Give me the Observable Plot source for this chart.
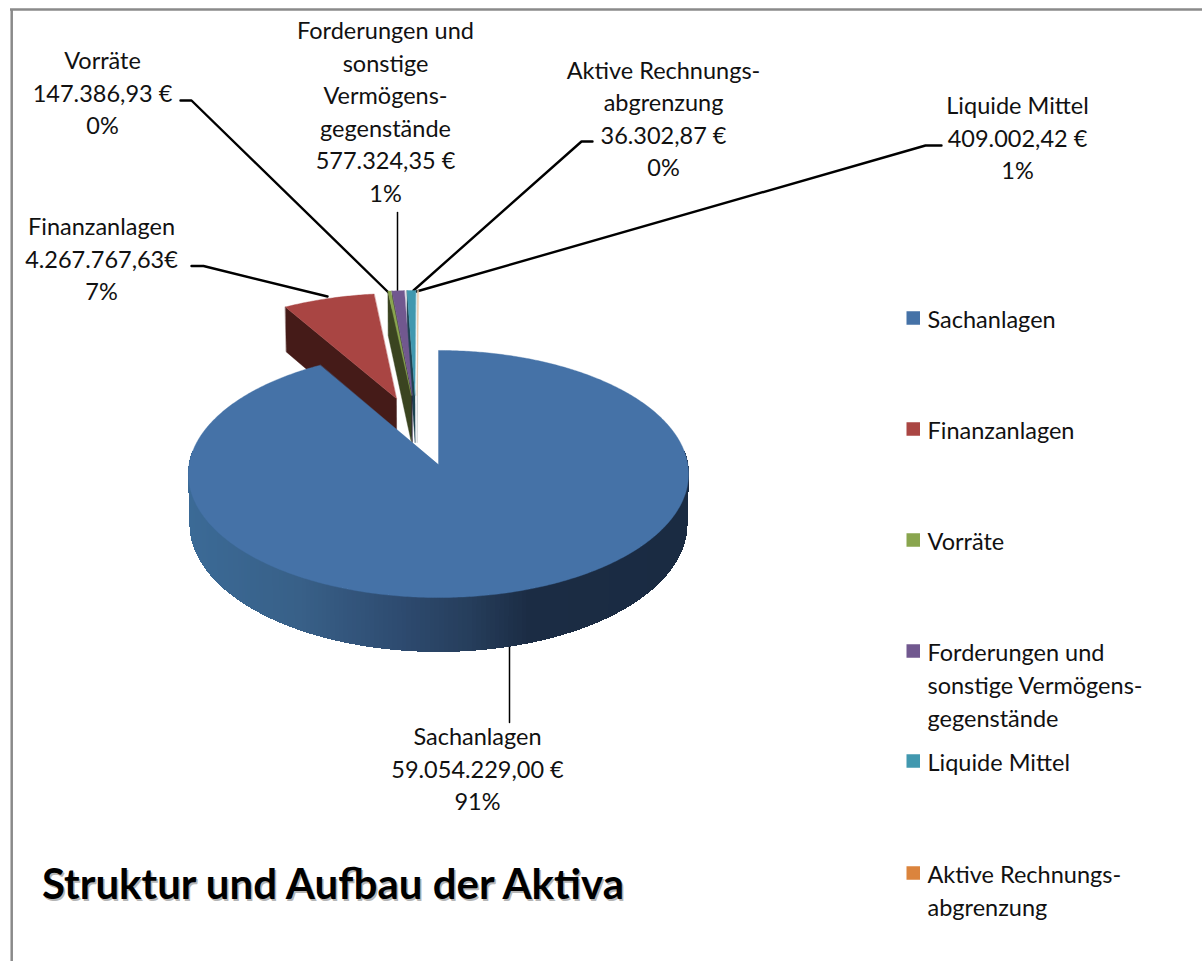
<!DOCTYPE html>
<html lang="de">
<head>
<meta charset="utf-8">
<title>Struktur und Aufbau der Aktiva</title>
<style>html,body{margin:0;padding:0;background:#fff}svg{display:block}</style>
<script src="https://cdn.jsdelivr.net/npm/d3@7"></script>
<script src="https://cdn.jsdelivr.net/npm/@observablehq/plot@0.6"></script>
</head>
<body>
<script>
// ---- data
const categories = ["Sachanlagen","Finanzanlagen","Vorräte","Forderungen und sonstige Vermögensgegenstände","Liquide Mittel","Aktive Rechnungsabgrenzung"];
const values = [59054229.00, 4267767.63, 147386.93, 577324.35, 409002.42, 36302.87];
const percentLabels = ["91%","7%","0%","1%","1%","0%"];
const valueSuffix = [" €","€"," €"," €"," €"," €"];
const labelNames = ["Sachanlagen","Finanzanlagen","Vorräte","Forderungen und\nsonstige\nVermögens-\ngegenstände","Liquide Mittel","Aktive Rechnungs-\nabgrenzung"];
const legendNames = ["Sachanlagen","Finanzanlagen","Vorräte","Forderungen und\nsonstige Vermögens-\ngegenstände","Liquide Mittel","Aktive Rechnungs-\nabgrenzung"];
const chartTitle = "Struktur und Aufbau der Aktiva";

// ---- styles
const topColors  = ["#4572a7","#a94543","#89a54e","#71588f","#4198af","#f3c9a5"];
const legendColors = ["#4572a7","#aa4643","#89a54e","#71588f","#4198af","#db843d"];
const sideColors = [null,"#451b18","#3a4420","#2d2340","#1c4250","#b9bdc0"];
const sideStopX = [188,300,400,470,530,688];
const sideStopC = ["#3b6a96","#386088","#2e4b70","#263e5c","#1b2c44","#1a2b42"];
const fontFamily = "Lato,'Noto Sans',sans-serif";
const fontSize = 23.5;

// ---- layout
const W = 1202, H = 961;
const pieCx = 438, pieCy = 464, pieA = 249.3, pieB = 122.8, pieK = 0.0769, pieD = 49.8;
const explodeU = [0,-0.176,-0.114,-0.110,-0.0985,-0.090];
const explodeV = [0,0.56,0.59,0.59,0.59,0.59];
const labelX = [477,101,102,385,1017,663];
const labelY = [767,257,91,109.5,136,116.5];
const legendTextY = [317,428,539,683,760,888];
const legendBoxY = [318,429,540,651,761,873];
const legendBoxX = 906.5, legendBoxS = 13.5, legendTextX = 927;
const leaders = [
  {w: 1.5, pts: [[509,645],[509,722]]},
  {w: 2.4, pts: [[191,265.5],[203,265.5],[327,296]]},
  {w: 2.4, pts: [[180,100],[191,100],[388,292]]},
  {w: 1.5, pts: [[397,212],[397,290]]},
  {w: 2.4, pts: [[941,145],[925,145],[416,291]]},
  {w: 2.4, pts: [[592,141],[581,141],[413,290]]}
];

// ---- geometry derived from the values
const arcs = d3.pie().sort(null)(values);
function project(u, v, z) {
  const s = 1 + pieK * v;
  const shrink = 1 - 0.006 * z;
  return {x: pieCx + pieA * shrink * u / s, y: pieCy + (-pieB * v + pieD * z) / s};
}
const at = (i, a, z) => project(explodeU[i] + (a == null ? 0 : Math.sin(a)), explodeV[i] + (a == null ? 0 : Math.cos(a)), z);
function faceRows(id, color, pts) {
  return pts.map(p => ({id, color, x: p.x, y: p.y}));
}
function arcPoints(i, from, to) {
  const n = Math.max(2, Math.ceil(Math.abs(to - from) / 0.01));
  return d3.range(n + 1).map(j => at(i, from + (to - from) * j / n, 0));
}
// exploded slices: walls drawn right to left, then the tops left to right
const backFaces = [];
for (let i = values.length - 1; i >= 1; i--) {
  const {startAngle: a0} = arcs[i];
  backFaces.push(...faceRows(`w${i}`, sideColors[i], [at(i, a0, 0), at(i, null, 0), at(i, null, 1), at(i, a0, 1)]));
}
for (let i = 1; i < values.length; i++) {
  const {startAngle: a0, endAngle: a1} = arcs[i];
  backFaces.push(...faceRows(`t${i}`, topColors[i], [at(i, null, 0), ...arcPoints(i, a0, a1)]));
}
// main slice: shaded outer wall in thin strips, then its top
const sideScale = d3.scaleLinear().domain(sideStopX).range(sideStopC);
const rad = Math.PI / 180;
const wallStrips = [];
for (let deg = 84; deg < 276; deg += 1) {
  const a = deg * rad, b = (deg + 1) * rad;
  const p = [at(0, a, 0), at(0, b, 0), at(0, b, 1), at(0, a, 1)];
  wallStrips.push(...faceRows(`s${deg}`, d3.color(sideScale(p[0].x)).formatHex(), p));
}
const mainTop = faceRows("t0", topColors[0], [at(0, null, 0), ...arcPoints(0, arcs[0].startAngle, arcs[0].endAngle)]);

// ---- text
const money = d3.formatLocale({decimal: ",", thousands: ".", grouping: [3], currency: ["", "€"]}).format(",.2f");
const labels = categories.map((c, i) => ({
  text: `${labelNames[i]}\n${money(values[i])}${valueSuffix[i]}\n${percentLabels[i]}`,
  x: labelX[i], y: labelY[i]
}));
const legendRows = categories.map((c, i) => ({
  text: legendNames[i], y: legendTextY[i], boxY: legendBoxY[i], color: legendColors[i]
}));
const leaderRows = leaders.flatMap(({w, pts}, id) => pts.map(([x, y]) => ({id, w, x, y})));

const faceOptions = {x: "x", y: "y", z: "id", fill: "color", stroke: "color", curve: "linear-closed"};
const chart = Plot.plot({
  width: W, height: H, margin: 0,
  x: {domain: [0, W], range: [0, W], axis: null},
  y: {domain: [0, H], range: [0, H], axis: null},
  color: {type: "identity"},
  style: {fontFamily, background: "#fff"},
  marks: [
    Plot.ruleX([11.2], {y1: 9, y2: H, stroke: "#8a8a8a", strokeWidth: 2.5}),
    Plot.ruleY([9], {x1: 10, x2: W, stroke: "#8a8a8a", strokeWidth: 2.5}),
    Plot.line(leaderRows.filter(d => d.w > 2), {x: "x", y: "y", z: "id", stroke: "#000", strokeWidth: 2.4, curve: "linear"}),
    Plot.line(leaderRows.filter(d => d.w < 2), {x: "x", y: "y", z: "id", stroke: "#000", strokeWidth: 1.5, curve: "linear"}),
    Plot.line(backFaces, {...faceOptions, strokeWidth: 0.4}),
    Plot.line(wallStrips, {...faceOptions, strokeWidth: 1, shapeRendering: "crispEdges"}),
    Plot.line(mainTop, {...faceOptions, strokeWidth: 0.4}),
    Plot.text(labels, {x: "x", y: "y", text: "text", fontSize, lineHeight: 32.5 / fontSize, fill: "#111", textAnchor: "middle"}),
    Plot.rect(legendRows, {x1: () => legendBoxX, x2: () => legendBoxX + legendBoxS, y1: d => d.boxY - legendBoxS / 2, y2: d => d.boxY + legendBoxS / 2, fill: "color"}),
    Plot.text(legendRows, {x: () => legendTextX, y: "y", text: "text", fontSize, lineHeight: 33 / fontSize, fill: "#111", textAnchor: "start"}),
    Plot.text([chartTitle], {x: () => 43, y: () => 887, text: d => d, fontSize: 42, fontWeight: 700, fill: "#b5b5b5", textAnchor: "start"}),
    Plot.text([chartTitle], {x: () => 41.5, y: () => 885.5, text: d => d, fontSize: 42, fontWeight: 700, fill: "#000", textAnchor: "start"})
  ]
});
document.body.appendChild(chart);
</script>
</body>
</html>
